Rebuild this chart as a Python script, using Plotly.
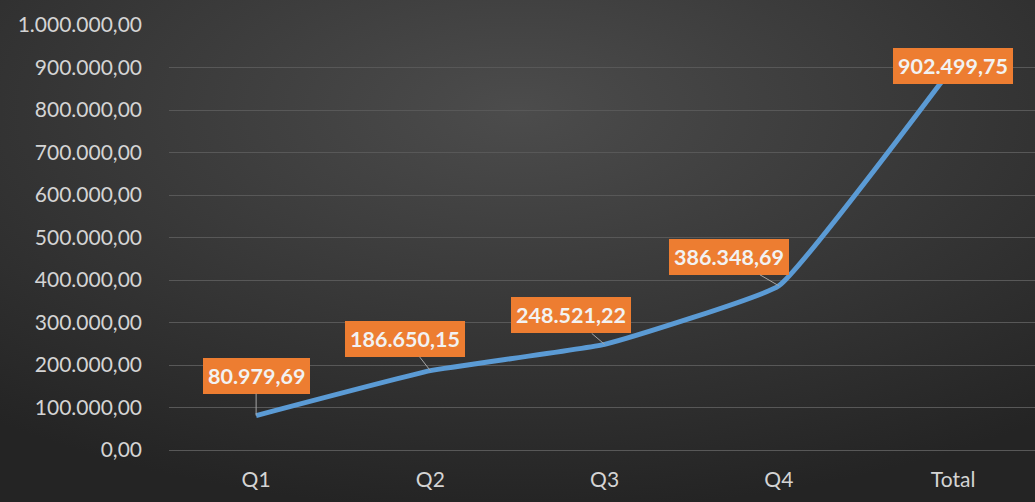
import plotly.graph_objects as go
import base64

categories = ["Q1", "Q2", "Q3", "Q4", "Total"]
values = [80979.69, 186650.15, 248521.22, 386348.69, 902499.75]
y_ticks = [0, 100000, 200000, 300000, 400000, 500000, 600000, 700000, 800000, 900000, 1000000]
label_offsets = [(0, -40), (-25, -32), (-34, -29), (-50, -29), (0, 0)]

W, H = 1035, 502
L, R, T, B = 169, 0, 25, 52

def fmt(v):
    s = f"{v:,.2f}"
    return s.replace(",", "X").replace(".", ",").replace("X", ".")

svg = f'''<svg xmlns="http://www.w3.org/2000/svg" width="{W}" height="{H}" viewBox="0 0 {W} {H}" preserveAspectRatio="none">
<defs><radialGradient id="g" cx="50%" cy="22%" r="80%" gradientUnits="objectBoundingBox">
<stop offset="0%" stop-color="#4c4c4c"/><stop offset="100%" stop-color="#242424"/></radialGradient></defs>
<rect width="{W}" height="{H}" fill="url(#g)"/></svg>'''
src = "data:image/svg+xml;base64," + base64.b64encode(svg.encode()).decode()

pw = W - L - R
ph = H - T - B

fig = go.Figure()
fig.add_trace(go.Scatter(
    x=categories, y=values, mode="lines",
    line=dict(color="#5B9BD5", width=5, shape="spline", smoothing=0.3),
    hoverinfo="skip", showlegend=False,
))

for c, v, (ax, ay) in zip(categories, values, label_offsets):
    fig.add_annotation(
        x=c, y=v, text=f"<b>{fmt(v)}</b>",
        showarrow=(ax != 0 or ay != 0), arrowhead=0, arrowwidth=1, arrowcolor="#a6a6a6",
        ax=ax, ay=ay, standoff=0,
        bgcolor="#ED7D31", borderpad=5, borderwidth=0,
        font=dict(family="Lato, Open Sans, sans-serif", size=21.5, color="#f2f2f2"),
    )

fig.add_layout_image(dict(
    source=src, xref="paper", yref="paper",
    x=-L / pw, y=1 + T / ph, sizex=W / pw, sizey=H / ph,
    sizing="stretch", xanchor="left", yanchor="top", layer="below",
))

fig.update_layout(
    width=W, height=H,
    margin=dict(l=L, r=R, t=T, b=B),
    paper_bgcolor="#2a2a2a", plot_bgcolor="rgba(0,0,0,0)",
    separators=",.",
    font=dict(family="Lato, Open Sans, sans-serif", size=21, color="#d4d4d4"),
    xaxis=dict(range=[-0.5, 4.47], showgrid=False, zeroline=False, showline=False,
               ticks="", ticklabelstandoff=15, tickfont=dict(size=21, color="#d4d4d4")),
    yaxis=dict(range=[0, 1000000], tickvals=y_ticks, tickformat=",.2f",
               showgrid=True, gridcolor="#585858", gridwidth=1,
               zeroline=True, zerolinecolor="#585858", zerolinewidth=1,
               showline=False, ticks="", ticklabelstandoff=26,
               tickfont=dict(size=21, color="#d4d4d4")),
)

fig.write_html("out.html")
